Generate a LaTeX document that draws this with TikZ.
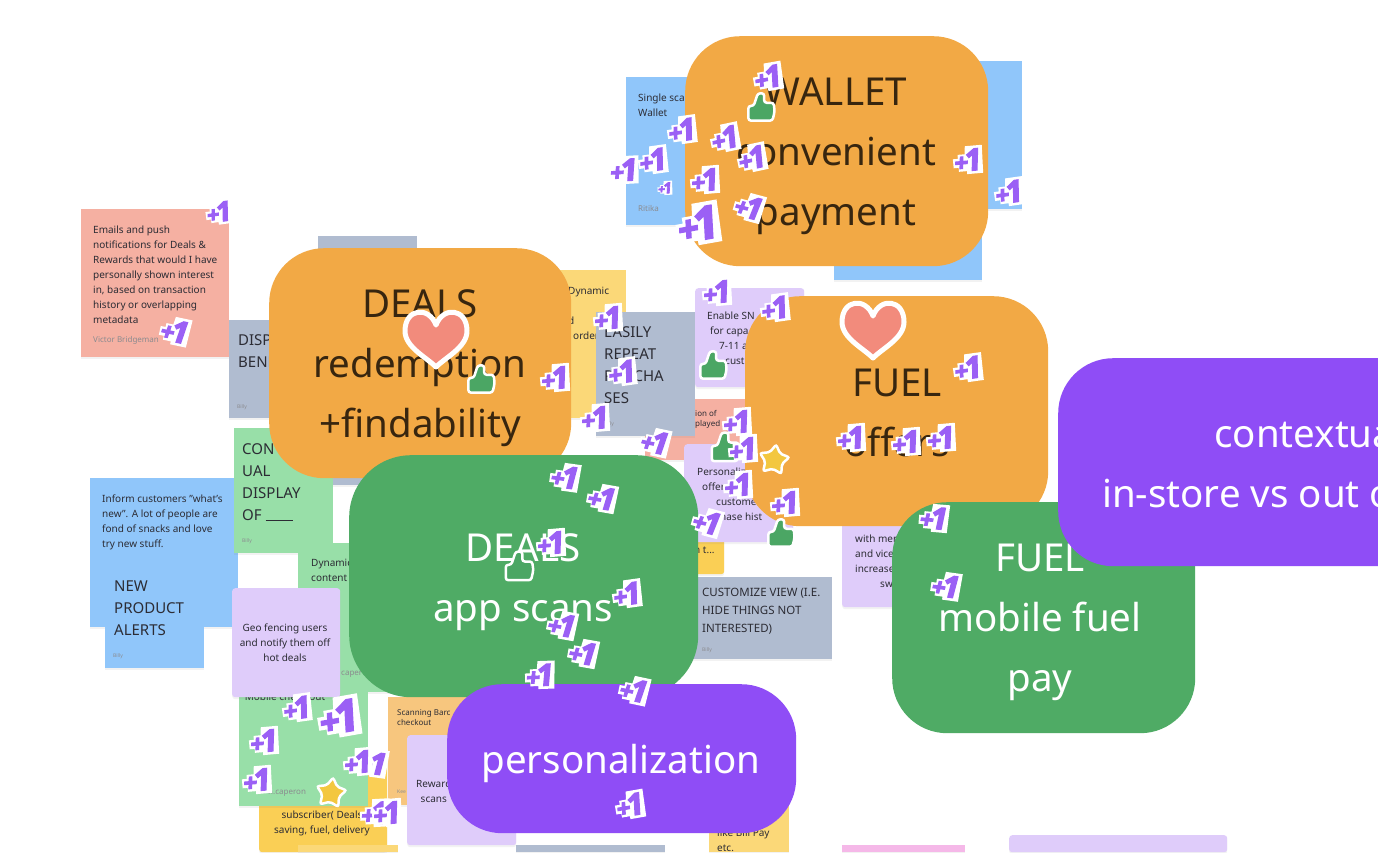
\documentclass[tikz,border=0pt]{standalone}
\usepackage{fontspec}
\setmainfont{Noto Sans}
\newfontfamily\plusfont[BoldFeatures={FakeBold=4.5,FakeSlant=.12}]{Open Sans}
\usepackage{tikz}
\usetikzlibrary{positioning,shadows,shapes.geometric}
\definecolor{bigorange}{HTML}{F2A945}
\definecolor{biggreen}{HTML}{4FAB65}
\definecolor{bigpurple}{HTML}{8F4DF6}
\definecolor{plusviolet}{HTML}{9B60F5}
\definecolor{thumbgreen}{HTML}{4BA664}
\definecolor{heartred}{HTML}{F28B7C}
\definecolor{staryellow}{HTML}{F3C73F}
\definecolor{notesalmon}{HTML}{F5B0A2}
\definecolor{noteslate}{HTML}{B0BCD0}
\definecolor{notemint}{HTML}{98DFA8}
\definecolor{noteblue}{HTML}{90C6FA}
\definecolor{notelilac}{HTML}{DFCCFA}
\definecolor{noteyellow}{HTML}{FBD878}
\definecolor{notegold}{HTML}{FACF55}
\definecolor{notepeach}{HTML}{F7C67E}
\definecolor{notepink}{HTML}{F5B8E8}
\definecolor{inkdark}{HTML}{2C2C34}
\definecolor{inkbrown}{HTML}{38260F}
\newcommand{\notebox}[6]{\node (#1) [note, fill=#2, #2shape/.try, minimum width=#5pt-#3pt, minimum height=#6pt-#4pt] at (#3,#4) {};}
\begin{document}
\begin{tikzpicture}[x=1pt,y=-1pt]
		\tikzstyle{note} = [rectangle, anchor = north west, inner sep = 0pt, drop shadow = {opacity = 0.1, shadow xshift = 0pt, shadow yshift = -2pt}];
		\tikzstyle{notelilacshape} = [rounded corners = 3pt];
		\tikzstyle{notegoldshape} = [rounded corners = 3pt];
		\tikzstyle{smalltext} = [anchor = north west, inner sep = 0pt, yshift = -4pt, text = inkdark, align = left, font = \fontsize{10}{15}\selectfont];
		\tikzstyle{centertext} = [smalltext, anchor = north, align = center];
		\tikzstyle{tinytext} = [smalltext, yshift = 2pt, font = \fontsize{8}{10.5}\selectfont];
		\tikzstyle{capstext} = [smalltext, yshift = -2pt, font = \fontsize{15}{22}\selectfont];
		\tikzstyle{signtext} = [anchor = west, inner sep = 0pt, text = inkdark!55, font = \fontsize{8}{9}\selectfont];
		\tikzstyle{billytext} = [signtext, font = \fontsize{5}{6}\selectfont];
		\tikzstyle{bigblock} = [rectangle, anchor = north west, rounded corners = 55pt, inner sep = 0pt];
		\tikzstyle{bigtext} = [inner sep = 0pt, align = center, font = \fontsize{38.5}{60}\selectfont];
		\tikzstyle{plustext} = [inner sep = 0pt, text = plusviolet, transform shape, font = \plusfont\bfseries];
		\tikzstyle{thumbmark} = [fill = thumbgreen, draw = white, line width = 2.5pt, rounded corners = 2.5pt];
		\tikzstyle{heartmark} = [fill = heartred, draw = white, line width = 5pt, line join = round];
		\tikzstyle{starmark} = [star, star points = 5, star point ratio = 1.75, minimum size = 31pt, inner sep = 0pt, fill = staryellow, draw = white, line width = 2.5pt, rounded corners = 2pt];
		\useasboundingbox (0,0) rectangle (1378,852);
		\clip (0,0) rectangle (1378,852);
		\fill [white] (0,0) rectangle (1378,852);
		\notebox{noteFlash}{noteblue}{900}{61}{1022}{209}
		\notebox{noteLower}{noteblue}{834}{190}{982}{280}
		\notebox{noteWallet}{noteblue}{626}{77}{735}{225}
		\node (txtWallet) [smalltext] at (638,90) {Single sca\\Wallet};
		\node (sgnWallet) [signtext] at (638,208) {Ritika};
		\notebox{noteEmails}{notesalmon}{81}{209}{229}{357}
		\node (txtEmails) [smalltext] at (93,222) {Emails and push\\notifications for Deals \&\\Rewards that would I have\\personally shown interest\\in, based on transaction\\history or overlapping\\metadata};
		\node (sgnEmails) [signtext] at (93,340) {Victor Bridgeman};
		\notebox{noteTop}{noteslate}{318}{236}{417}{335}
		\notebox{noteHidden}{noteslate}{300}{390}{417}{485}
		\notebox{noteDisp}{noteslate}{229}{320}{330}{418}
		\node (txtDisp) [capstext] at (238,328) {DISP\\BENE};
		\node (sgnDisp) [billytext] at (237,407) {Billy};
		\notebox{noteInform}{noteblue}{90}{478}{238}{627}
		\node (txtInform) [smalltext] at (102,491) {Inform customers "what's\\new". A lot of people are\\fond of snacks and love\\try new stuff.};
		\notebox{noteContext}{notemint}{234}{428}{333}{553}
		\node (txtContext) [capstext] at (242,437) {CON\\UAL\\DISPLAY\\OF \rule[-1pt]{27pt}{1pt}};
		\node (sgnContext) [billytext] at (242,541) {Billy};
		\notebox{noteAlerts}{noteblue}{105}{570}{204}{668}
		\node (txtAlerts) [capstext] at (114,575) {NEW\\PRODUCT\\ALERTS};
		\node (sgnAlerts) [billytext] at (113,656) {Billy};
		\notebox{noteContent}{notemint}{298}{543}{400}{692}
		\node (txtContent) [smalltext] at (311,555) {Dynamic\\content};
		\node (sgnContent) [signtext] at (341,674) {caper};
		\notebox{noteSub}{notegold}{259}{755}{387}{852}
		\node (txtSub) [centertext] at (322,807) {subscriber( Deals\\saving, fuel, delivery};
		\notebox{noteCheck}{notemint}{239}{690}{368}{806}
		\node (txtCheck) [centertext] at (285,689) {Mobile check-out};
		\node (sgnCheck) [signtext] at (268,792) {h.caperon};
		\notebox{noteGeo}{notelilac}{232}{588}{340}{697}
		\node (txtGeo) [centertext] at (285,620) {Geo fencing users\\and notify them off\\hot deals};
		\notebox{noteGold}{noteyellow}{298}{845}{398}{852}
		\notebox{noteScan}{notepeach}{388}{697}{480}{805}
		\node (txtScan) [tinytext] at (397,707) {Scanning Barc\\checkout};
		\node (sgnScan) [billytext] at (397,792) {Kee};
		\notebox{noteReward}{notelilac}{407}{735}{516}{845}
		\node (txtReward) [smalltext, align = center] at (416,776) {Reward\\scans};
		\notebox{noteSlate}{noteslate}{516}{845}{665}{852}
		\notebox{noteBill}{noteyellow}{709}{800}{789}{852}
		\node (txtBill) [smalltext] at (717,825) {like Bill Pay\\etc.};
		\notebox{notePink}{notepink}{842}{845}{965}{852}
		\notebox{noteLast}{notelilac}{1009}{835}{1227}{852}
		\notebox{noteDynamic}{noteyellow}{530}{270}{626}{418}
		\node (txtDynamic) [smalltext] at (568,283) {Dynamic\\\\d\\\hspace*{5pt}orders};
		\notebox{noteSalmon}{notesalmon}{645}{399}{760}{460}
		\node (txtSalmon) [tinytext] at (695,408) {ion of\\played};
		\notebox{noteRepeat}{noteslate}{596}{312}{695}{436}
		\node (txtRepeat) [capstext] at (604,320) {EASILY\\REPEAT\\PURCHA\\SES};
		\node (sgnRepeat) [billytext] at (604,424) {Billy};
		\notebox{noteSnap}{notelilac}{695}{288}{804}{387}
		\node (txtSnap) [smalltext] at (707,308) {Enable SN\\\hspace*{3pt}for capa\\\hspace*{12pt}7-11 an\\\hspace*{18pt}cust};
		\notebox{noteSmall}{notegold}{680}{530}{724}{574}
		\node (txtSmall) [smalltext] at (694,543) {n t...};
		\notebox{notePerson}{notelilac}{684}{444}{793}{542}
		\node (txtPerson) [smalltext] at (697,464) {Personaliz\\\hspace*{5pt}offer\\\hspace*{19pt}custome\\\hspace*{23pt}nase hist};
		\notebox{noteMerch}{notelilac}{842}{510}{950}{607}
		\node (txtMerch) [smalltext] at (855,531) {with mer\\and vice\\increase\\\hspace*{25pt}sw};
		\notebox{noteCustom}{noteslate}{680}{577}{832}{659}
		\node (txtCustom) [smalltext, font = \fontsize{11.5}{18}\selectfont] at (702,584) {CUSTOMIZE VIEW (I.E.\\HIDE THINGS NOT\\INTERESTED)};
		\node (sgnCustom) [billytext] at (702,650) {Billy};
		\node (blockWallet) [bigblock, fill = bigorange, minimum width = 303pt, minimum height = 230pt] at (685,36) {};
		\node (txtBlockWallet) [bigtext, text = inkbrown] at (836,156) {WALLET\\convenient\\payment};
		\node (blockDeals) [bigblock, fill = bigorange, minimum width = 302pt, minimum height = 230pt] at (269,248) {};
		\node (txtBlockDeals) [bigtext, text = inkbrown] at (420,368) {DEALS\\redemption\\+findability};
		\node (blockFuel) [bigblock, fill = bigorange, minimum width = 303pt, minimum height = 230pt] at (745,296) {};
		\node (txtBlockFuel) [bigtext, text = inkbrown] at (897,413) {FUEL\\offers};
		\node (blockScans) [bigblock, fill = biggreen, rounded corners = 62pt, minimum width = 349pt, minimum height = 242pt] at (349,455) {};
		\node (txtBlockScans) [bigtext, text = white] at (523,582) {DEALS\\app scans};
		\node (blockPay) [bigblock, fill = biggreen, minimum width = 303pt, minimum height = 231pt] at (892,502) {};
		\node (txtBlockPay) [bigtext, text = white] at (1040,622) {FUEL\\mobile fuel\\pay};
		\node (blockContext) [bigblock, fill = bigpurple, minimum width = 400pt, minimum height = 208pt] at (1058,358) {};
		\node (txtBlockContext) [bigtext, text = white, anchor = west] at (1102,463) {\hspace*{110pt}contextual\\in-store vs out of};
		\node (blockPerson) [bigblock, fill = bigpurple, minimum width = 349pt, minimum height = 149pt] at (447,684) {};
		\node (txtBlockPerson) [bigtext, text = white] at (621,763) {personalization};
		\foreach \hx/\hy/\hname in {436/339/heartDeals,873/330/heartFuel} {
			\path [heartmark, shift = {(\hx,\hy)}] (0,-14) .. controls (7,-33) and (31,-31) .. (31,-8) .. controls (31,8) and (10,18) .. (0,28) .. controls (-10,18) and (-31,8) .. (-31,-8) .. controls (-31,-31) and (-7,-33) .. (0,-14) -- cycle;
			\coordinate (\hname) at (\hx,\hy);
		}
		\foreach \tx/\ty/\tsize in {761/108/1.05,481/380/1.05,713/366/1.05,725/448/1.1,781/534/1.05,519/567/1.1} {
			\path [thumbmark, shift = {(\tx,\ty)}, scale = \tsize] (-12,-2) -- (-7,-2) -- (-3,-14) -- (3,-14) -- (3,-5) -- (12,-5) -- (13,3) -- (11,12) -- (-12,12) -- cycle;
		}
		\foreach \px/\py/\pang/\psize [count = \i] in {768/77/10/1,682/130/8/1,725/138/12/1,752/158/12/1,653/160/8/1,624/170/3/1,665/188/3/0.5,705/180/5/1,749/207/-15/1,698/224/10/1.5,968/160/5/1,1009/192/8/1,219/212/8/0.9,175/331/-12/1,717/292/5/1,775/308/8/1,608/318/5/1,622/372/8/1,555/378/5/1,595/418/5/1,655/442/-12/1,737/422/5/1,743/449/5/1,738/485/5/1,785/503/5/1,707/522/-15/1,565/477/-8/1,602/498/-10/1,551/543/5/1,627/594/8/1,562/625/-10/1,583/653/-10/1,540/675/2/1,634/690/-12/1,630/805/10/1,851/438/5/1,906/442/5/1,941/438/5/1,968/368/8/1,934/518/-5/1,946/586/-8/1,297/708/8/1,339/717/10/1.45,264/741/5/1,257/780/5/1,373/763/-8/1,358/762/5/1,375/813/3/1,387/813/5/1} {
			\begin{scope}[shift = {(\px,\py)}, rotate = \pang, scale = \psize]
				\fill [white] (-15,-2) -- (-10,-2) -- (-10,-6) -- (-3,-6) -- (-2,-14) -- (15,-14) -- (14,14) -- (-2,14) -- (-2,11) -- (-10,11) -- (-10,7) -- (-15,7) -- cycle;
				\node (plus\i) [plustext] at (-1,0) {\fontsize{24}{24}\selectfont +\kern-3.5pt\fontsize{30}{30}\selectfont 1};
			\end{scope}
		}
		\node (starCart) [starmark, rotate = -8] at (774,460) {};
		\node (starMobile) [starmark, rotate = -8] at (331,793) {};
\end{tikzpicture}
\end{document}
